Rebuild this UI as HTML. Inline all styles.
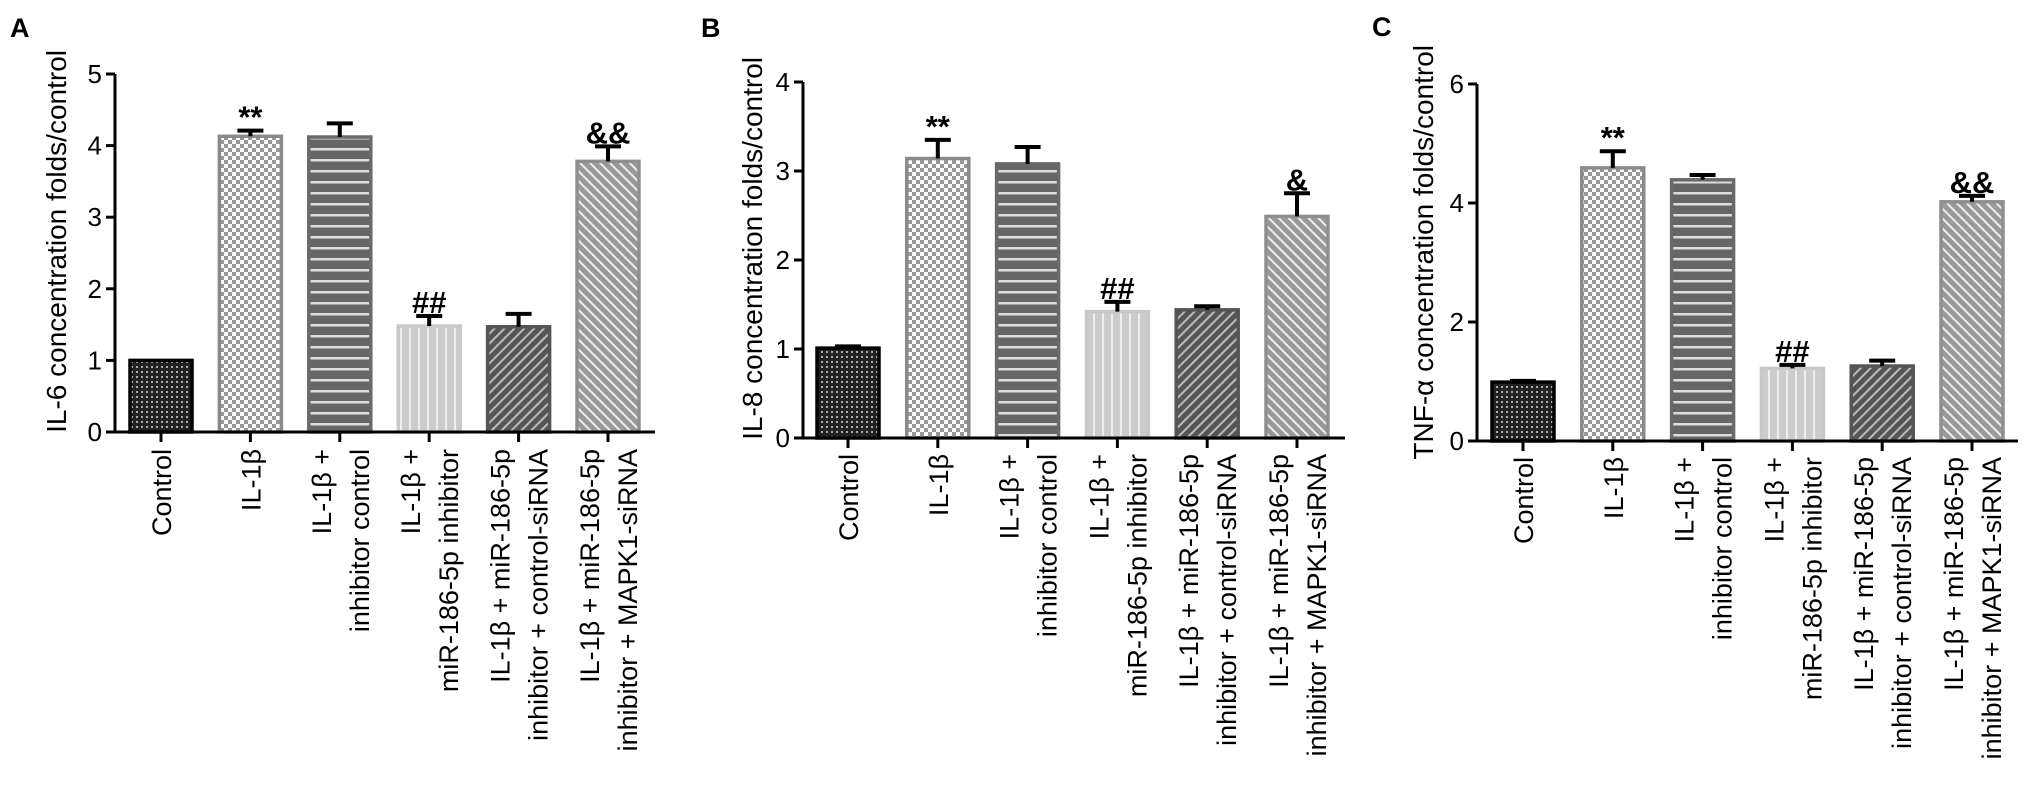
<!DOCTYPE html>
<html><head><meta charset="utf-8"><style>
html,body{margin:0;padding:0;background:#fff;}
svg{display:block;font-family:"Liberation Sans",Arial,sans-serif;}
</style></head><body>
<svg id="fig" width="2031" height="797" viewBox="0 0 2031 797" xmlns="http://www.w3.org/2000/svg">
<defs>
<pattern id="p0" width="5" height="5" patternUnits="userSpaceOnUse"><rect width="5" height="5" fill="#222"/><rect x="1" y="1" width="2" height="2" fill="#aaa"/></pattern>
<pattern id="p1" width="8" height="8" patternUnits="userSpaceOnUse"><rect width="8" height="8" fill="#fff"/><rect width="4" height="4" fill="#999"/><rect x="4" y="4" width="4" height="4" fill="#999"/></pattern>
<pattern id="p2" width="10" height="11" patternUnits="userSpaceOnUse"><rect width="10" height="11" fill="#666"/><rect y="5" width="10" height="2.5" fill="#ddd"/></pattern>
<pattern id="p3" width="9" height="10" patternUnits="userSpaceOnUse"><rect width="9" height="10" fill="#ccc"/><rect x="4" width="2" height="10" fill="#eee"/></pattern>
<pattern id="p4" width="7" height="7" patternUnits="userSpaceOnUse" patternTransform="rotate(45)"><rect width="7" height="7" fill="#555"/><rect width="2" height="7" fill="#bbb"/></pattern>
<pattern id="p5" width="7" height="7" patternUnits="userSpaceOnUse" patternTransform="rotate(-45)"><rect width="7" height="7" fill="#999"/><rect width="2" height="7" fill="#eee"/></pattern>
</defs>
</svg>
<script>
const categories = [["Control"],["IL-1β"],["IL-1β +","inhibitor control"],["IL-1β +","miR-186-5p inhibitor"],["IL-1β + miR-186-5p","inhibitor + control-siRNA"],["IL-1β + miR-186-5p","inhibitor + MAPK1-siRNA"]];
const valuesA = [1.0, 4.13, 4.12, 1.48, 1.47, 3.78];
const errorsA = [0.0, 0.08, 0.19, 0.14, 0.18, 0.21];
const valuesB = [1.01, 3.14, 3.08, 1.42, 1.44, 2.49];
const errorsB = [0.02, 0.21, 0.19, 0.11, 0.04, 0.26];
const valuesC = [0.99, 4.59, 4.39, 1.22, 1.26, 4.02];
const errorsC = [0.02, 0.28, 0.08, 0.06, 0.09, 0.1];
const marksA = ["", "**", "", "##", "", "&&"];
const marksB = ["", "**", "", "##", "", "&"];
const marksC = ["", "**", "", "##", "", "&&"];
const ticksA = [0,1,2,3,4,5];
const ticksB = [0,1,2,3,4];
const ticksC = [0,2,4,6];
const titles = ["IL-6 concentration folds/control","IL-8 concentration folds/control","TNF-α concentration folds/control"];

const NS="http://www.w3.org/2000/svg";
const svg=document.getElementById('fig');
function mk(tag,attrs,parent){const e=document.createElementNS(NS,tag);for(const k in attrs)e.setAttribute(k,attrs[k]);(parent||svg).appendChild(e);return e;}
const fills=["url(#p0)","url(#p1)","url(#p2)","url(#p3)","url(#p4)","url(#p5)"];
const strokes=["#000","#8a8a8a","#6a6a6a","#c8c8c8","#555","#8f8f8f"];

function panel(cfg){
  const g=mk('g',{});
  
  
  const y=v=>cfg.y0-(v/cfg.max)*(cfg.y0-cfg.yTop);
  const x=i=>cfg.x0+i*cfg.step;
  const L=mk('text',{x:cfg.lx,y:cfg.ly,'font-size':27,'font-weight':'bold'},g);L.textContent=cfg.letter;
  
  
  const t=mk('text',{transform:`translate(${cfg.tx},${cfg.ty}) rotate(-90)`,'text-anchor':'end','font-size':28},g);t.textContent=cfg.title;
  
  
  cfg.vals.forEach((v,i)=>{
    const w=cfg.bw,cx=x(i);
    const r=mk('rect',{x:cx-w/2,y:y(v),width:w,height:cfg.y0-y(v),fill:fills[i],stroke:strokes[i],'stroke-width':3.5},g);
    
    
    const e=cfg.errs[i];
    if(e>0){
      const eb=mk('path',{d:`M${cx},${y(v)} V${y(v+e)} M${cx-13},${y(v+e)} H${cx+13}`,stroke:'#000','stroke-width':4,fill:'none'},g);
      
      
    }
    if(cfg.marks[i]){
      const m=mk('text',{x:cx,y:y(v+e)-3,'text-anchor':'middle','font-size':31,'font-weight':'bold'},g);m.textContent=cfg.marks[i];
      
      
    }
  });
  const ax=mk('path',{d:`M${cfg.ax},${cfg.yTop} V${cfg.y0} H${cfg.axEnd}`,stroke:'#000','stroke-width':3,fill:'none'},g);
  
  
  cfg.ticks.forEach(tv=>{
    mk('line',{x1:cfg.ax-9,x2:cfg.ax,y1:y(tv),y2:y(tv),stroke:'#000','stroke-width':3},g);
    const tl=mk('text',{x:cfg.ax-13,y:y(tv)+9,'text-anchor':'end','font-size':26},g);tl.textContent=tv;
    
    
  });
  categories.forEach((c,i)=>{
    const cx=x(i);
    mk('line',{x1:cx,x2:cx,y1:cfg.y0,y2:cfg.y0+10,stroke:'#000','stroke-width':3},g);
    const n=c.length;
    c.forEach((line,j)=>{
      const off=(j-(n-1)/2)*38+10;
      const tt=mk('text',{transform:`translate(${cx+off},${cfg.labTop}) rotate(-90)`,'text-anchor':'end','font-size':27},g);
      tt.textContent=line;
      
      
    });
  });
}
panel({letter:'A',lx:10,ly:37,title:titles[0],tx:66,ty:50,vals:valuesA,errs:errorsA,marks:marksA,ticks:ticksA,max:5,y0:432,yTop:74,ax:115,axEnd:655,x0:161,step:89.4,bw:62,labTop:449});
panel({letter:'B',lx:701,ly:37,title:titles[1],tx:762,ty:57,vals:valuesB,errs:errorsB,marks:marksB,ticks:ticksB,max:4,y0:438,yTop:82,ax:803,axEnd:1345,x0:848,step:89.8,bw:62,labTop:454});
panel({letter:'C',lx:1372,ly:36,title:titles[2],tx:1433,ty:45,vals:valuesC,errs:errorsC,marks:marksC,ticks:ticksC,max:6,y0:441,yTop:84,ax:1477,axEnd:2018,x0:1523,step:89.8,bw:62,labTop:457});
</script>
</body></html>
